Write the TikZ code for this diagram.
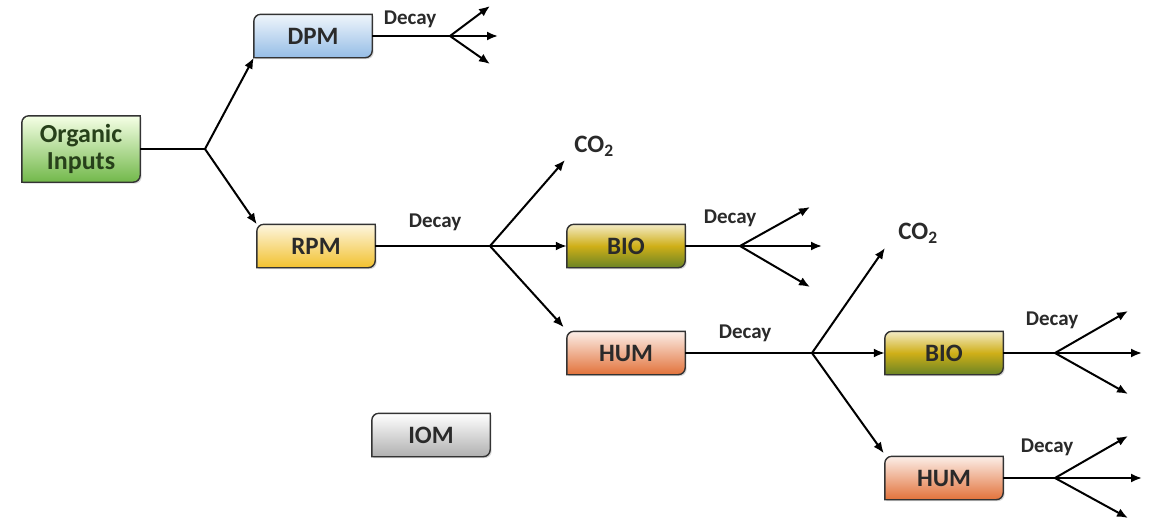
\documentclass[tikz,border=0pt]{standalone}
\usepackage{fontspec}
\setmainfont{Carlito}
\usetikzlibrary{arrows.meta,shadows,backgrounds}
\pgfdeclarelayer{canvas}
\pgfsetlayers{canvas,background,main}
\definecolor{txt}{HTML}{2A2A2A}
\tikzset{
  boxn/.style={draw=none,inner sep=0pt,minimum width=118pt,minimum height=43pt,font=\bfseries\fontsize{25}{27}\selectfont,text=txt,align=center},
  gshape/.style={draw=black!80,line width=1.4pt,drop shadow={opacity=0.3,shadow xshift=1.5pt,shadow yshift=-1.5pt}},
  fgreen/.style={top color=green!20!lime!10!white,bottom color=cgreen},
  fblue/.style={top color=cblue!15!white,bottom color=cblue},
  fyellow/.style={top color=cyellow!15!white,bottom color=cyellow},
  folive/.style={top color=cgold!25!white,bottom color=colive,middle color=cgold},
  forange/.style={top color=corange!12!white,bottom color=corange},
  fgray/.style={top color=white,bottom color=cgray},
  arr/.style={line width=2pt,-{Latex[length=11pt,width=9pt]}},
  ln/.style={line width=2pt},
  dlab/.style={font=\bfseries\fontsize{21}{23}\selectfont,text=txt,inner sep=0pt},
  colab/.style={font=\bfseries\fontsize{25}{27}\selectfont,text=txt,inner sep=0pt}
}
\definecolor{cgreen}{HTML}{72B84A}
\definecolor{cblue}{HTML}{95BDE6}
\definecolor{cyellow}{HTML}{F2C12E}
\definecolor{cgold}{HTML}{CFAF18}
\definecolor{colive}{HTML}{6A8424}
\definecolor{corange}{HTML}{E2723A}
\definecolor{cgray}{HTML}{B0B0B0}
\definecolor{dgreen}{HTML}{27401A}
\newcommand\rbox[5][]{%
  \node[boxn,#1] (#2) at (#3) {#4};
  \begin{pgfonlayer}{background}
  \path[gshape,#5] (#2.south west) -- ([yshift=-7pt]#2.north west) arc[start angle=180,end angle=90,radius=7pt] -- (#2.north east) -- ([yshift=7pt]#2.south east) arc[start angle=0,end angle=-90,radius=7pt] -- cycle;
  \end{pgfonlayer}}
\begin{document}
\begin{tikzpicture}[x=1pt,y=-1pt]
\useasboundingbox (0,0) rectangle (1149,522);
\begin{pgfonlayer}{canvas}
\fill[white] (0,0) rectangle (1149,522);
\end{pgfonlayer}
% boxes
\rbox[minimum height=66pt,text=dgreen,font=\bfseries\fontsize{26}{27}\selectfont]{oi}{81,149}{Organic\\Inputs}{fgreen}
\rbox{dpm}{313,36}{DPM}{fblue}
\rbox{rpm}{316,246}{RPM}{fyellow}
\rbox{iom}{431,435}{IOM}{fgray}
\rbox{bioa}{626,246}{BIO}{folive}
\rbox{huma}{626,353}{HUM}{forange}
\rbox{biob}{944,353}{BIO}{folive}
\rbox{humb}{944,478}{HUM}{forange}
% coordinates
\coordinate (b0) at (205,149);
\coordinate (b1) at (450,36);
\coordinate (b1u) at (490,6);
\coordinate (b1r) at (498,36);
\coordinate (b1d) at (490,64);
\coordinate (b2) at (490,246);
\coordinate (b2u) at (565,160);
\coordinate (b3) at (740,246);
\coordinate (b3u) at (810,207);
\coordinate (b3r) at (822,246);
\coordinate (b3d) at (810,287);
\coordinate (b4) at (812,353);
\coordinate (b4u) at (885,248);
\coordinate (b5) at (1055,353);
\coordinate (b5u) at (1128,311);
\coordinate (b5r) at (1142,353);
\coordinate (b5d) at (1128,394);
\coordinate (b6) at (1055,478);
\coordinate (b6u) at (1128,436);
\coordinate (b6r) at (1142,478);
\coordinate (b6d) at (1128,518);
% connectors
\draw[ln] (oi.east) -- (b0);
\draw[arr] (b0) -- (dpm.south west);
\draw[arr] (b0) -- (rpm.north west);
\draw[ln] (dpm.east) -- (b1);
\draw[arr] (b1) -- (b1u);
\draw[arr] (b1) -- (b1r);
\draw[arr] (b1) -- (b1d);
\draw[ln] (rpm.east) -- (b2);
\draw[arr] (b2) -- (b2u);
\draw[arr] (b2) -- (bioa.west);
\draw[arr] (b2) -- ([xshift=-3pt,yshift=4pt]huma.north west);
\draw[ln] (bioa.east) -- (b3);
\draw[arr] (b3) -- (b3u);
\draw[arr] (b3) -- (b3r);
\draw[arr] (b3) -- (b3d);
\draw[ln] (huma.east) -- (b4);
\draw[arr] (b4) -- (b4u);
\draw[arr] (b4) -- (biob.west);
\draw[arr] (b4) -- ([xshift=-1pt,yshift=3pt]humb.north west);
\draw[ln] (biob.east) -- (b5);
\draw[arr] (b5) -- (b5u);
\draw[arr] (b5) -- (b5r);
\draw[arr] (b5) -- (b5d);
\draw[ln] (humb.east) -- (b6);
\draw[arr] (b6) -- (b6u);
\draw[arr] (b6) -- (b6r);
\draw[arr] (b6) -- (b6d);
% labels
\node[dlab] (d1) at (410,19) {Decay};
\node[dlab] (d2) at (435,222) {Decay};
\node[dlab] (d3) at (730,218) {Decay};
\node[dlab] (d4) at (745,333) {Decay};
\node[dlab] (d5) at (1052,320) {Decay};
\node[dlab] (d6) at (1047,447) {Decay};
\node[colab] (co1) at (594,146) {CO\textsubscript{2}};
\node[colab] (co2) at (918,233) {CO\textsubscript{2}};
\end{tikzpicture}
\end{document}
